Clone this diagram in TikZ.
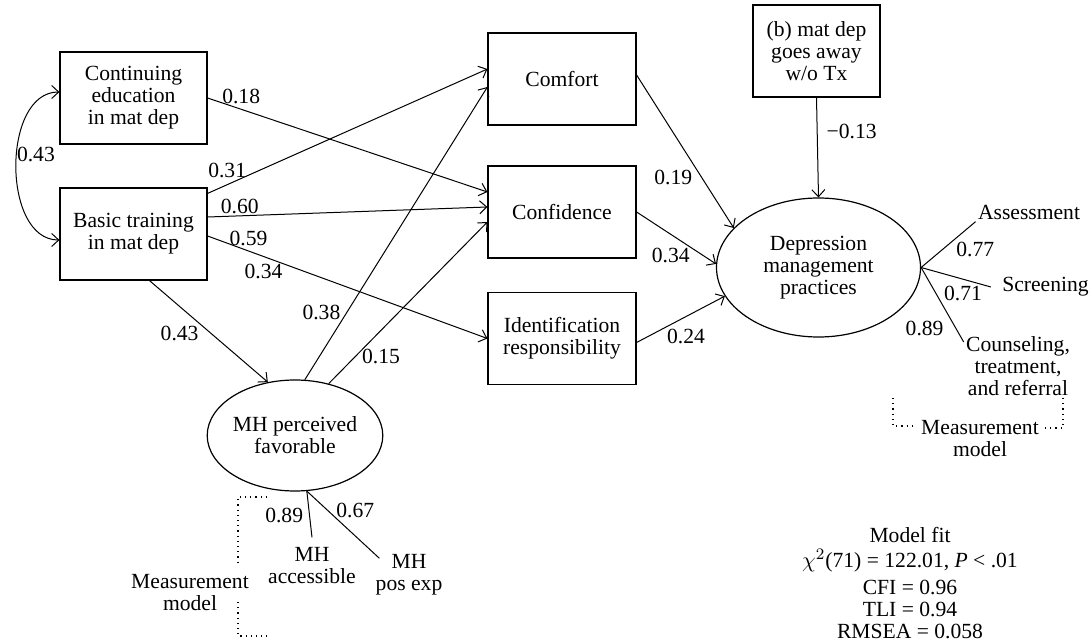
\documentclass[tikz,border=0pt]{standalone}
\usepackage{fontspec}
\setmainfont{Liberation Serif}
\usetikzlibrary{arrows.meta,shapes.geometric}

\begin{document}
\begin{tikzpicture}[x=0.5pt,y=-0.5pt,
  box/.style={draw, line width=0.6pt, minimum width=73.5pt, minimum height=46pt, inner sep=0pt, align=center},
  latent/.style={draw, line width=0.6pt, ellipse, inner sep=0pt, align=center},
  reg/.style={line width=0.5pt, -{Straight Barb[length=3.5pt,width=6.5pt]}},
  load/.style={line width=0.5pt},
  coef/.style={inner sep=1pt},
  ind/.style={inner sep=1pt, align=center},
  meas/.style={dotted, line width=0.6pt}]

\fontsize{10.8}{11}\selectfont
\path [use as bounding box] (0,0) rectangle (1092,642);

% BOXES
\node [box] (cont) at (133.5,98) {Continuing\\education\\in mat dep};
\node [box] (basic) at (133.5,234) {Basic training\\in mat dep};
\node [box, minimum width=74pt] (comfort) at (562,79) {Comfort};
\node [box, minimum width=74pt] (confid) at (562,212) {Confidence};
\node [box, minimum width=74pt] (ident) at (562,338.5) {Identification\\responsibility};
\node [box, minimum width=63.5pt] (tx) at (816.5,51) {(b) mat dep\\goes away\\w/o Tx};

% LATENT
\node [latent, minimum width=102pt, minimum height=69.5pt] (dep) at (818.5,267.5) {Depression\\management\\practices};
\node [latent, minimum width=82pt, minimum height=55.5pt] (mhf) at (295,435.5) {MH perceived\\favorable};

% PATHS
\draw [line width=0.5pt, {Straight Barb[length=3.5pt,width=6.5pt]}-{Straight Barb[length=3.5pt,width=6.5pt]}]
  ([yshift=3pt]cont.west) to[out=180,in=180] node[coef, pos=0.45, anchor=west, inner sep=0pt] {0.43} ([yshift=-3pt]basic.west);
\draw [reg] (cont.east) -- node[coef, pos=0.12, above=1.5pt] {0.18} ([yshift=10pt]confid.west);
\draw [reg] ([yshift=-3pt]basic.north east) -- node[coef, pos=0.07, above=2pt] {0.31} ([yshift=5pt]comfort.west);
\draw [reg] ([yshift=8.5pt]basic.east) -- node[coef, pos=0.115, above] {0.60} ([yshift=2.5pt]confid.west);
\draw [reg] ([yshift=-1pt]basic.east) -- node[coef, pos=0.146, above=1.5pt] {0.59}
  node[coef, pos=0.2, below=2.5pt] {0.34} (ident.west);
\draw [reg] ([xshift=8pt]basic.south) -- node[coef, pos=0.52, left=5pt] {0.43} (mhf.117);
\draw [reg] (mhf.80) -- node[coef, pos=0.23, left=2pt] {0.38} ([yshift=-4pt]comfort.west);
\draw [reg] (mhf.57) -- node[coef, pos=0.17, right=2pt] {0.15} ([yshift=-5pt]confid.west);
\draw [reg] ([yshift=2pt]comfort.east) -- node[coef, pos=0.67, left=3.5pt] {0.19} (dep.155);
\draw [reg] (confid.east) -- node[coef, pos=0.43, below=5.5pt] {0.34} (dep.178);
\draw [reg] ([yshift=-2pt]ident.east) -- node[coef, pos=0.56, below=5pt] {0.24} (dep.197);
\draw [reg] (tx.south) -- node[coef, pos=0.34, right=3.5pt] {−0.13} (dep.north);

% DEPRESSION INDICATORS
\node [ind] (assess) at (1029,212) {Assessment};
\node [ind] (screen) at (1045.5,287) {Screening};
\node [ind] (couns) at (1018,366) {Counseling,\\treatment,\\and referral};
\draw [load] (dep.east) -- node[coef, pos=0.6, below right] {0.77} (assess.south west);
\draw [load] (dep.east) -- node[coef, pos=0.6, below=2pt] {0.71} ([xshift=-4.5pt]screen.west);
\draw [load] (dep.east) -- node[coef, pos=0.82, left=5pt] {0.89} ([yshift=-4pt]couns.north west);

\node [ind] (mmright) at (980,439) {Measurement\\model};
\draw [meas] (893,398) |- (915,426);
\draw [meas] (1063,398) |- (1043,428);

% MH INDICATORS
\node [ind] (mhacc) at (312,566) {MH\\accessible};
\node [ind] (mhpos) at (409,575) {MH\\pos exp};
\draw [load] (mhf.-78) -- node[coef, pos=0.53, left=2pt] {0.89} ([yshift=4pt]mhacc.north);
\draw [load] (mhf.-78) -- node[coef, pos=0.29, right=3pt] {0.67} ([shift={(3pt,-3pt)}]mhpos.north west);

\node [ind] (mmleft) at (190,593) {Measurement\\model};
\draw [meas] (267,497) -| (238,563);
\draw [meas] (238,602) |- (267,636);

% FIT
\node [ind] (fit) at (910,583) {Model fit\\[1.5pt]
  $\chi^2$(71) = 122.01, \textit{P} < .01\\[2.5pt]
  CFI = 0.96\\ TLI = 0.94\\ RMSEA = 0.058};

\end{tikzpicture}
\end{document}
